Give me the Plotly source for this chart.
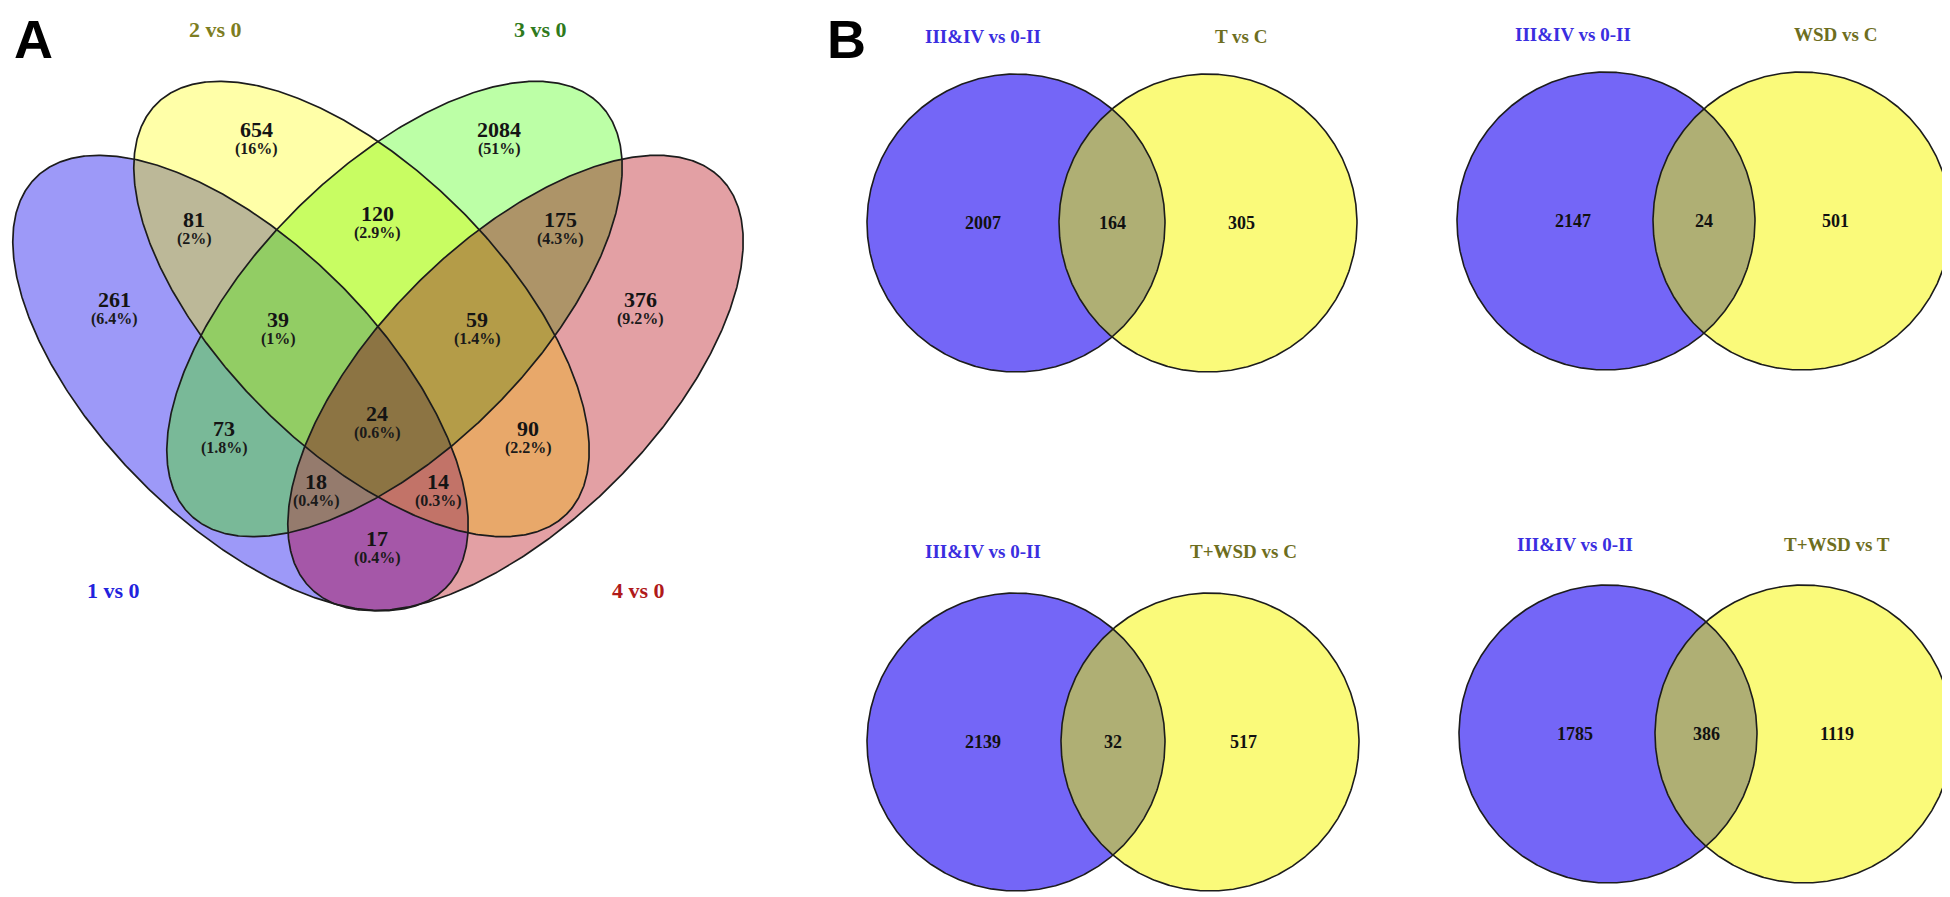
import numpy as np
import plotly.graph_objects as go

# ---------------- data ----------------
A_set_names = ["1 vs 0", "2 vs 0", "3 vs 0", "4 vs 0"]
A_region_keys = ["1", "2", "3", "4", "12", "23", "34", "13", "24", "14",
                 "123", "234", "134", "124", "1234"]
A_counts = [261, 654, 2084, 376, 81, 120, 175, 73, 90, 17, 39, 59, 18, 14, 24]
A_percents = ["6.4%", "16%", "51%", "9.2%", "2%", "2.9%", "4.3%", "1.8%", "2.2%",
              "0.4%", "1%", "1.4%", "0.4%", "0.3%", "0.6%"]

B_left_names = ["III&IV vs 0-II", "III&IV vs 0-II", "III&IV vs 0-II", "III&IV vs 0-II"]
B_right_names = ["T vs C", "WSD vs C", "T+WSD vs C", "T+WSD vs T"]
B_left_only = [2007, 2147, 2139, 1785]
B_overlap = [164, 24, 32, 386]
B_right_only = [305, 501, 517, 1119]

# ---------------- layout / style ----------------
W, H = 1950, 897
EA, EB = 290, 140  # ellipse semi-axes (panel A)
A_ell = {"1": (232.5, 375, 45), "2": (353.5, 301, 45),
         "3": (386.5, 301, -45), "4": (507.5, 375, -45)}
A_region_color = {
    "1": "#9d99f8", "2": "#ffffa8", "3": "#bcffa6", "4": "#e3a0a4",
    "12": "#bcb898", "23": "#c8fd62", "34": "#ad9468", "13": "#79b998",
    "24": "#e8a86a", "14": "#a557a8", "123": "#92cd64", "234": "#b49c48",
    "134": "#957b6d", "124": "#c27368", "1234": "#8c7443",
}
A_label_pos = {
    "1": (106, 291), "2": (248, 121), "3": (491, 121), "4": (632, 291),
    "12": (186, 211), "23": (369, 205), "34": (552, 211), "13": (216, 420),
    "24": (520, 420), "14": (369, 530), "123": (270, 311), "234": (469, 311),
    "134": (308, 473), "124": (430, 473), "1234": (369, 405),
}
A_set_label_pos = [(105, 582), (207, 21), (532, 21), (630, 582)]
A_set_label_color = ["#2222dd", "#7d7d22", "#2f7a1c", "#b01a1a"]

B_r = 149
B_centers = [((1008, 215), (1200, 215)), ((1598, 213), (1794, 213)),
             ((1008, 734), (1202, 734)), ((1600, 726), (1796, 726))]
B_title_y = [28, 26, 543, 536]
B_blue, B_yellow, B_lens = "#7466f7", "#fafa7a", "#afaf74"

SERIF = "Liberation Serif"


def ell_params(cx, cy, a, b, th_deg):
    th = np.radians(th_deg)
    u = np.array([np.cos(th), np.sin(th)])
    v = np.array([-np.sin(th), np.cos(th)])
    R = np.stack([u, v], 1)
    M = R @ np.diag([1 / a ** 2, 1 / b ** 2]) @ R.T
    return np.array([cx, cy], float), M, u, v, a, b


def ell_outline(e, n=720):
    c, M, u, v, a, b = e
    t = np.linspace(0, 2 * np.pi, n)
    return c[None, :] + a * np.cos(t)[:, None] * u + b * np.sin(t)[:, None] * v


def intersection_poly(ells, n=1440):
    xs, ys = np.meshgrid(np.arange(0, W, 2.0), np.arange(0, H, 2.0))
    pts = np.stack([xs.ravel(), ys.ravel()], 1)
    inside = np.ones(len(pts), bool)
    for c, M, *_ in ells:
        w = pts - c
        inside &= np.einsum("ni,ij,nj->n", w, M, w) <= 1
    p0 = pts[inside].mean(0)
    phi = np.linspace(0, 2 * np.pi, n, endpoint=False)
    d = np.stack([np.cos(phi), np.sin(phi)], 1)
    r = np.full(n, np.inf)
    for c, M, *_ in ells:
        w = p0 - c
        A = np.einsum("ni,ij,nj->n", d, M, d)
        B = d @ (M @ w)
        C = w @ M @ w - 1
        rr = (-B + np.sqrt(B * B - A * C)) / A
        r = np.minimum(r, rr)
    P = p0 + r[:, None] * d
    return np.vstack([P, P[:1]])


fig = go.Figure()


def add_fill(P, color):
    fig.add_trace(go.Scatter(x=P[:, 0], y=P[:, 1], mode="lines", fill="toself",
                             fillcolor=color, line=dict(width=0, color=color),
                             hoverinfo="skip", showlegend=False))


def add_outline(P, width=1.6):
    fig.add_trace(go.Scatter(x=P[:, 0], y=P[:, 1], mode="lines",
                             line=dict(width=width, color="#1c1c1c"),
                             hoverinfo="skip", showlegend=False))


# ---------------- panel A ----------------
ellA = {k: ell_params(cx, cy, EA, EB, th) for k, (cx, cy, th) in A_ell.items()}
for key in sorted(A_region_keys, key=len):
    add_fill(intersection_poly([ellA[ch] for ch in key]), A_region_color[key])
for k in ["1", "2", "3", "4"]:
    add_outline(ell_outline(ellA[k]), 1.7)

ann = []
for key, cnt, pct in zip(A_region_keys, A_counts, A_percents):
    x, y = A_label_pos[key]
    ann.append(dict(x=x, y=y, text=f"<b>{cnt}</b>", showarrow=False,
                    font=dict(family=SERIF, size=22, color="#141414")))
    ann.append(dict(x=x, y=y + 20, text=f"<b>({pct})</b>", showarrow=False,
                    font=dict(family=SERIF, size=16, color="#1a1a1a")))
for name, (x, y), col in zip(A_set_names, A_set_label_pos, A_set_label_color):
    ann.append(dict(x=x, y=y, text=f"<b>{name}</b>", showarrow=False,
                    font=dict(family=SERIF, size=22, color=col)))

# ---------------- panel B ----------------
for i in range(4):
    (c1x, c1y), (c2x, c2y) = B_centers[i]
    e1 = ell_params(c1x, c1y, B_r, B_r, 0)
    e2 = ell_params(c2x, c2y, B_r, B_r, 0)
    add_fill(ell_outline(e1), B_blue)
    add_fill(ell_outline(e2), B_yellow)
    add_fill(intersection_poly([e1, e2]), B_lens)
    add_outline(ell_outline(e1), 1.6)
    add_outline(ell_outline(e2), 1.6)
    xl, xr = c1x - 33, c2x + 33
    xm = (c1x + B_r + c2x - B_r) / 2
    ym = (c1y + c2y) / 2
    for x, val in [(xl, B_left_only[i]), (xm, B_overlap[i]), (xr, B_right_only[i])]:
        ann.append(dict(x=x, y=ym, text=f"<b>{val}</b>", showarrow=False,
                        font=dict(family=SERIF, size=18, color="#111111")))
    ann.append(dict(x=xl, y=B_title_y[i], text=f"<b>{B_left_names[i]}</b>", showarrow=False,
                    font=dict(family=SERIF, size=19, color="#3a2ee0")))
    ann.append(dict(x=xr, y=B_title_y[i], text=f"<b>{B_right_names[i]}</b>", showarrow=False,
                    font=dict(family=SERIF, size=19, color="#6e6e1e")))

# panel letters
ann.append(dict(x=25, y=0, yanchor="top", borderpad=0, text="<b>A</b>", showarrow=False,
                font=dict(family="Liberation Sans", size=54, color="#000000")))
ann.append(dict(x=838, y=0, yanchor="top", borderpad=0, text="<b>B</b>", showarrow=False,
                font=dict(family="Liberation Sans", size=54, color="#000000")))

fig.update_layout(
    width=W, height=H, margin=dict(l=0, r=0, t=0, b=0),
    paper_bgcolor="white", plot_bgcolor="white", showlegend=False,
    xaxis=dict(range=[0, W], visible=False, fixedrange=True),
    yaxis=dict(range=[H, 0], visible=False, fixedrange=True),
    annotations=ann,
)
fig.write_html("out.html")
